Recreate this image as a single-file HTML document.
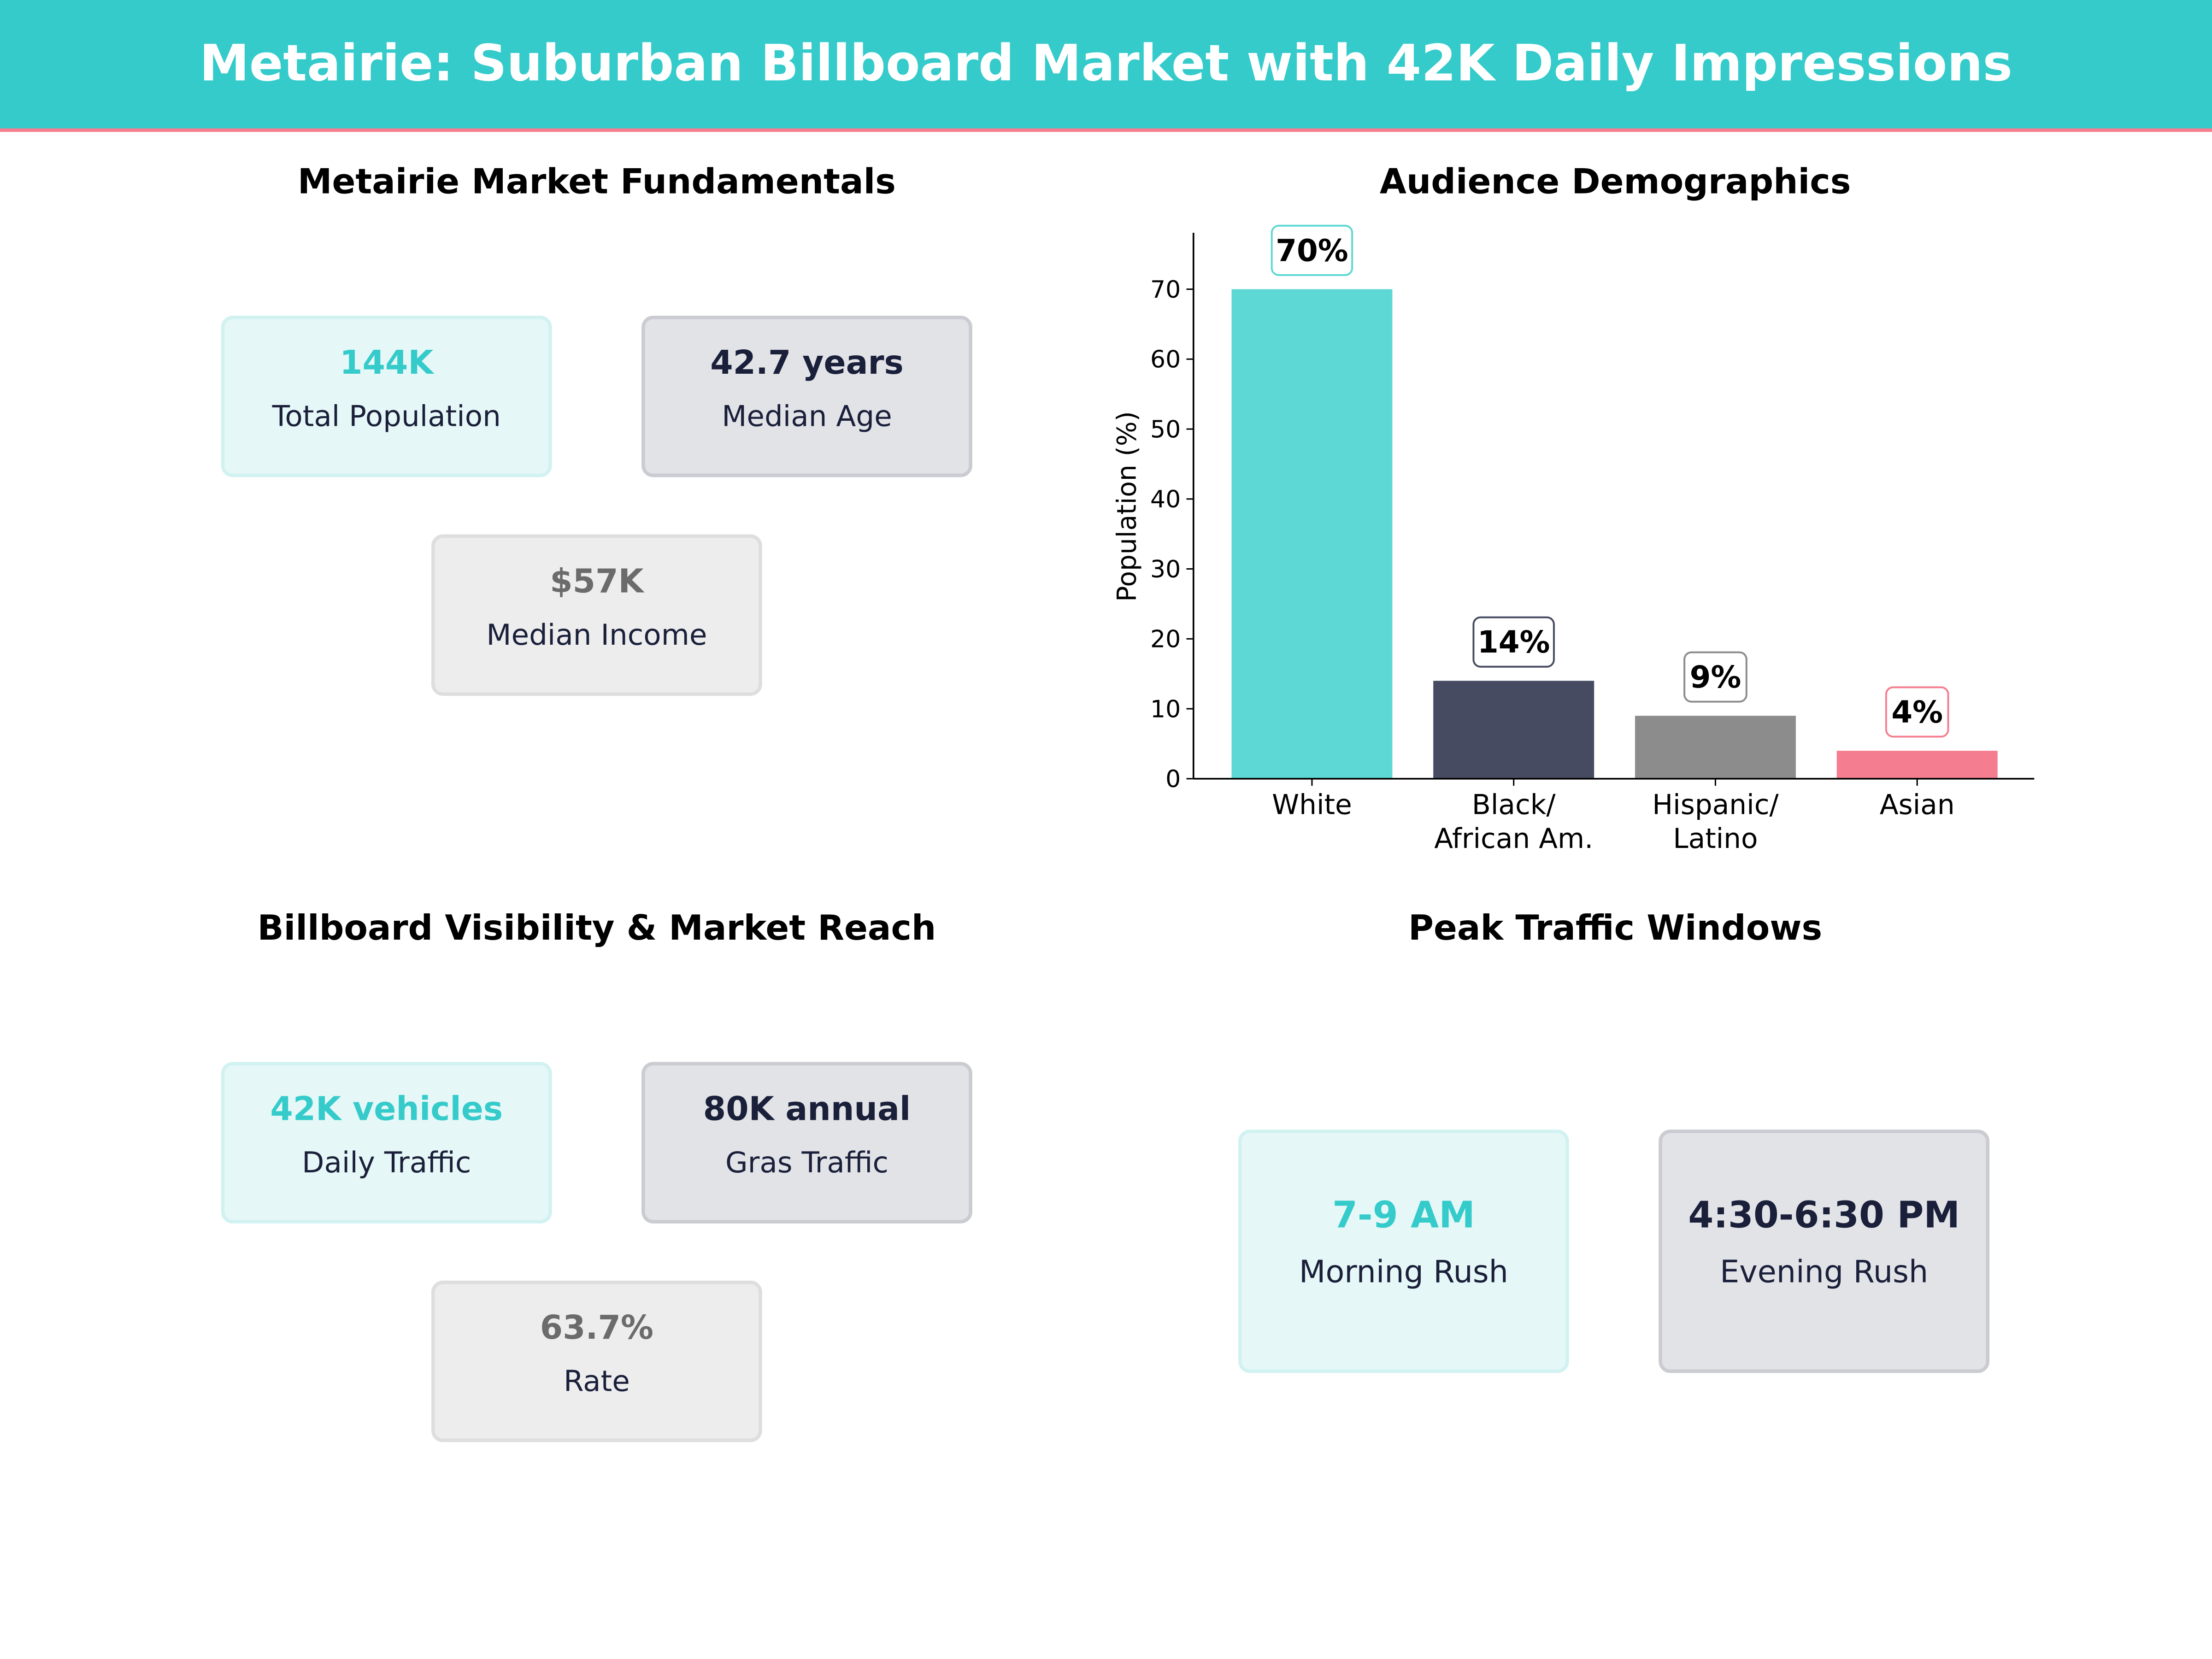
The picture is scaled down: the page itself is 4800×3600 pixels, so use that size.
<!DOCTYPE html>
<html><head><meta charset="utf-8"><style>
html,body{margin:0;padding:0;background:#fff;width:4800px;height:3600px;overflow:hidden}
svg{display:block;font-family:"DejaVu Sans","Liberation Sans",sans-serif}
</style></head><body>
<svg id="root" width="4800" height="3600" viewBox="0 0 1568 1176" xmlns="http://www.w3.org/2000/svg">
<rect width="1568" height="1176" fill="#fff"/>
<g>
<rect x="0" y="0" width="1568" height="92" fill="#35CBCB"/>
<rect x="0" y="91" width="1568" height="2.5" fill="#F47E90"/>
<text x="784" y="57" text-anchor="middle" font-size="35.4" font-weight="bold" fill="#fff">Metairie: Suburban Billboard Market with 42K Daily Impressions</text>
</g>
<g font-weight="bold" font-size="24.5" text-anchor="middle" fill="#000">
<text x="423" y="137">Metairie Market Fundamentals</text>
<text x="1145" y="137">Audience Demographics</text>
<text x="423" y="666">Billboard Visibility &amp; Market Reach</text>
<text x="1145" y="666">Peak Traffic Windows</text>
</g>
<g id="cards"></g>
<g id="chart"></g>
</svg>
<script>
const NS="http://www.w3.org/2000/svg";
function mk(tag,attrs,parent,text){const e=document.createElementNS(NS,tag);for(const k in attrs)e.setAttribute(k,attrs[k]);if(text!==undefined)e.textContent=text;parent.appendChild(e);return e;}
const styles={
 teal:{fill:"#E6F7F7",stroke:"#D2F2F2",val:"#35CBCB"},
 navy:{fill:"#E2E3E7",stroke:"#CBCCD2",val:"#1A1F3A"},
 gray:{fill:"#EDEDED",stroke:"#DEDEDE",val:"#6B6B6B"}
};
const cardValues=["144K","42.7 years","$57K","42K vehicles","80K annual","63.7%","7-9 AM","4:30-6:30 PM"];
const cardLabels=["Total Population","Median Age","Median Income","Daily Traffic","Gras Traffic","Rate","Morning Rush","Evening Rush"];
const cardStyles=["teal","navy","gray","teal","navy","gray","teal","navy"];
const cardBoxes=[[158,225,232,112],[456,225,232,112],[307,380,232,112],[158,754,232,112],[456,754,232,112],[307,909,232,112],[879,802,232,170],[1177,802,232,170]];
const cg=document.getElementById('cards');
cardValues.forEach((v,i)=>{
 const s=styles[cardStyles[i]],b=cardBoxes[i];
 const big=i>=6;
 const g=mk('g',{},cg);
 
 
 mk('rect',{x:b[0],y:b[1],width:b[2],height:b[3],rx:7,fill:s.fill,stroke:s.stroke,'stroke-width':2.5},g);
 const cx=b[0]+b[2]/2,cy=b[1]+b[3]/2;
 const t1=mk('text',{x:cx,y:cy-(big?17:16),'text-anchor':'middle','font-size':big?25.8:23.2,'font-weight':'bold',fill:s.val},g,v);
 
 
 const t2=mk('text',{x:cx,y:cy+(big?22:21),'text-anchor':'middle','font-size':big?21.8:20.5,fill:"#1A1F3A"},g,cardLabels[i]);
 
 
});
// chart data
const categories=[["White"],["Black/","African Am."],["Hispanic/","Latino"],["Asian"]];
const values=[70,14,9,4];
const barColors=["#5DD8D4","#464B62","#8C8C8C","#F47E90"];
const yTicks=[0,10,20,30,40,50,60,70];
const ch=document.getElementById('chart');
const X0=846,X1=1442,Y0=552,pxPer=347/70,step=143,firstC=930,bw=114;
const y=v=>Y0-v*pxPer, x=i=>firstC+i*step;
values.forEach((v,i)=>{
 const r=mk('rect',{x:x(i)-bw/2,y:y(v),width:bw,height:Y0-y(v),fill:barColors[i]},ch);
 
 
 const lab=v+"%";
 const w=lab.length*13+18;
 const lg=mk('g',{},ch);
 
 
 mk('rect',{x:x(i)-w/2,y:y(v)-45,width:w,height:35,rx:5,fill:"#fff",stroke:barColors[i],'stroke-width':1.3},lg);
 mk('text',{x:x(i),y:y(v)-20,'text-anchor':'middle','font-size':21.5,'font-weight':'bold',fill:"#000"},lg,lab);
 mk('line',{x1:x(i),y1:Y0,x2:x(i),y2:Y0+5,stroke:"#000",'stroke-width':1},ch);
 categories[i].forEach((ln,j)=>{
  const t=mk('text',{x:x(i),y:Y0+25+j*24,'text-anchor':'middle','font-size':19.5,fill:"#000"},ch,ln);
  
  
 });
});
yTicks.forEach(v=>{
 mk('line',{x1:X0-5,y1:y(v),x2:X0,y2:y(v),stroke:"#000",'stroke-width':1},ch);
 const t=mk('text',{x:X0-9,y:y(v)+6,'text-anchor':'end','font-size':17,fill:"#000"},ch,v);
 
 
});
const ax=mk('line',{x1:X0,y1:165,x2:X0,y2:Y0,stroke:"#000",'stroke-width':1.2},ch);


const bx=mk('line',{x1:X0,y1:Y0,x2:X1,y2:Y0,stroke:"#000",'stroke-width':1.2},ch);


const yt=mk('text',{x:0,y:0,transform:'translate(805,359) rotate(-90)','text-anchor':'middle','font-size':18.5,fill:"#000"},ch,"Population (%)");


</script>
</body></html>
